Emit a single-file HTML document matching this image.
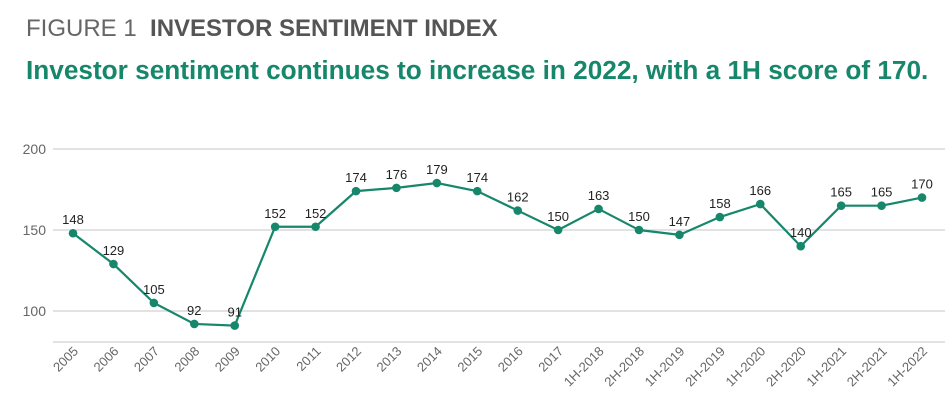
<!DOCTYPE html>
<html><head><meta charset="utf-8"><style>
body{margin:0;background:#fff;width:951px;height:415px;overflow:hidden;font-family:"Liberation Sans",sans-serif}
#t1{position:absolute;left:26px;top:15px;font-size:24px;color:#666;letter-spacing:0px}
#t1 b{color:#555}
#t2{position:absolute;left:26px;top:55px;font-size:26.2px;font-weight:bold;color:#16876b}
</style></head><body>
<div id="t1"><span style="font-weight:300">FIGURE 1</span>&nbsp; <b>INVESTOR SENTIMENT INDEX</b></div>
<div id="t2">Investor sentiment continues to increase in 2022, with a 1H score of 170.</div>
<svg id="chart" width="951" height="415" style="position:absolute;left:0;top:0"></svg>
<script>
const categories=["2005","2006","2007","2008","2009","2010","2011","2012","2013","2014","2015","2016","2017","1H-2018","2H-2018","1H-2019","2H-2019","1H-2020","2H-2020","1H-2021","2H-2021","1H-2022"];
const values=[148,129,105,92,91,152,152,174,176,179,174,162,150,163,150,147,158,166,140,165,165,170];
const yTicks=[100,150,200];
const svg=document.getElementById('chart');
const NS='http://www.w3.org/2000/svg';
const x0=73,x1=922;
function xs(i){return x0+i*(x1-x0)/(categories.length-1);}
function ys(v){return 311-(v-100)*81/50;}
function mk(t,a){const e=document.createElementNS(NS,t);for(const k in a)e.setAttribute(k,a[k]);svg.appendChild(e);return e;}
yTicks.forEach(v=>{
 const l=mk('line',{x1:53,x2:945,y1:ys(v),y2:ys(v),stroke:'#d9d9d9','stroke-width':1.5});
 
 
 const t=mk('text',{x:46,y:ys(v)+5,'text-anchor':'end','font-size':14,fill:'#666'});t.textContent=v;
 
 
});
const ax=mk('line',{x1:53,x2:945,y1:342,y2:342,stroke:'#d9d9d9','stroke-width':1.5});


const pts=values.map((v,i)=>xs(i)+','+ys(v)).join(' ');
const pl=mk('polyline',{points:pts,fill:'none',stroke:'#16876b','stroke-width':2.2});


values.forEach((v,i)=>{
 const c=mk('circle',{cx:xs(i),cy:ys(v),r:4.3,fill:'#16876b'});
 
 
 const t=mk('text',{x:xs(i),y:ys(v)-9,'text-anchor':'middle','font-size':13,fill:'#222'});t.textContent=v;
 
 
 const xl=mk('text',{x:xs(i)+6,y:352,'text-anchor':'end','font-size':13,fill:'#666',transform:'rotate(-45 '+(xs(i)+6)+' 352)'});xl.textContent=categories[i];
 
 
});
</script>
</body></html>
